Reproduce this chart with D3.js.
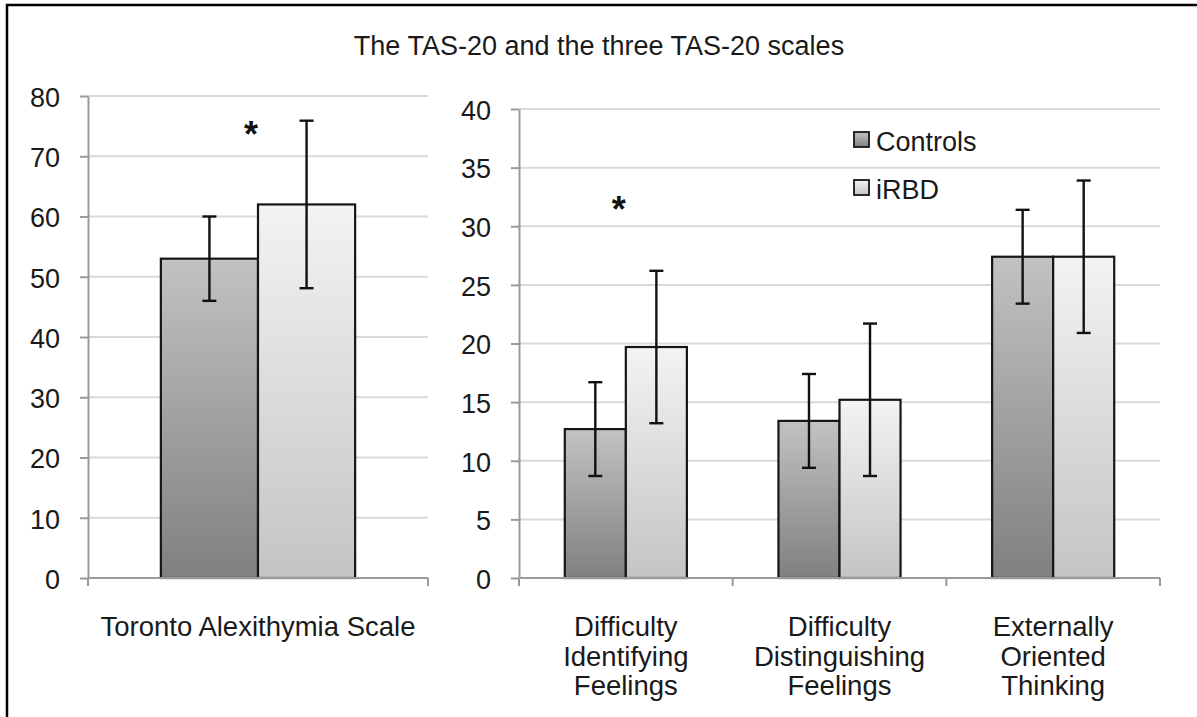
<!DOCTYPE html>
<html>
<head>
<meta charset="utf-8">
<script src="https://cdn.jsdelivr.net/npm/d3@7"></script>
<style>
  body { margin: 0; background: #fff; }
  svg { display: block; font-family: "Liberation Sans", Arial, sans-serif; }
  .tick text { fill: #1a1a1a; }
</style>
</head>
<body>
<svg id="chart" width="1197" height="717"></svg>
<script>
// Data
const series = ['Controls', 'iRBD'];

const tasCategories = [['Toronto Alexithymia Scale']];
const tasControls = [53.0];
const tasControlsErr = [7.0];
const tasIrbd = [62.0];
const tasIrbdErr = [13.9];
const tasTicks = [0, 10, 20, 30, 40, 50, 60, 70, 80];
const tasStars = [74.3];

const scaleCategories = [
    ['Difficulty', 'Identifying', 'Feelings'],
    ['Difficulty', 'Distinguishing', 'Feelings'],
    ['Externally', 'Oriented', 'Thinking']
];
const scaleControls = [12.7, 13.4, 27.4];
const scaleControlsErr = [4.0, 4.0, 4.0];
const scaleIrbd = [19.7, 15.2, 27.4];
const scaleIrbdErr = [6.5, 6.5, 6.5];
const scaleTicks = [0, 5, 10, 15, 20, 25, 30, 35, 40];
const scaleStars = [31.8, null, null];

const title = 'The TAS-20 and the three TAS-20 scales';

const svg = d3.select('#chart');

// Gradients for the bar fills
const defs = svg.append('defs');
const gradStops = {
    Controls: ['#c2c2c2', '#808080'],
    iRBD: ['#f3f3f3', '#c4c4c4']
};
series.forEach(s => {
    const g = defs.append('linearGradient')
        .attr('id', 'grad-' + s)
        .attr('x1', 0).attr('y1', 0).attr('x2', 0).attr('y2', 1);
    g.append('stop').attr('offset', '0%').attr('stop-color', gradStops[s][0]);
    g.append('stop').attr('offset', '100%').attr('stop-color', gradStops[s][1]);
});

// Outer frame (right and bottom edges run off the picture)
svg.append('rect')
    .attr('x', 7).attr('y', 5)
    .attr('width', 1300).attr('height', 800)
    .attr('fill', 'none')
    .attr('stroke', '#000')
    .attr('stroke-width', 2.5);

svg.append('text')
    .attr('x', 599).attr('y', 55)
    .attr('text-anchor', 'middle')
    .attr('font-size', '27px')
    .attr('fill', '#1a1a1a')
    .text(title);

function drawPanel(opts) {
    const { xRange, yRange, max, ticks, cats, ctrl, ctrlErr, irbd, irbdErr, stars } = opts;
    const rows = cats.map((c, i) => ({
        i: i,
        lines: c,
        values: { Controls: [ctrl[i], ctrlErr[i]], iRBD: [irbd[i], irbdErr[i]] },
        star: stars[i]
    }));

    const y = d3.scaleLinear().domain([0, max]).range(yRange);
    const x0 = d3.scaleBand().domain(rows.map(r => r.i)).range(xRange).padding(0);
    const x1 = d3.scaleBand().domain(series).range([0, x0.bandwidth()])
        .paddingInner(0).paddingOuter(0.75);

    const g = svg.append('g');

    // Gridlines
    g.append('g').selectAll('line')
        .data(ticks.filter(t => t > 0))
        .enter().append('line')
        .attr('x1', xRange[0]).attr('x2', xRange[1])
        .attr('y1', d => y(d)).attr('y2', d => y(d))
        .attr('stroke', '#d9d9d9')
        .attr('stroke-width', 2);

    // Y axis
    const yAxis = g.append('g')
        .attr('transform', `translate(${xRange[0]},0)`)
        .call(d3.axisLeft(y).tickValues(ticks).tickSize(8).tickPadding(20).tickSizeOuter(0));
    yAxis.selectAll('text').attr('font-size', '27px').attr('dy', '0.38em');
    yAxis.select('.domain').attr('stroke', '#9a9a9a').attr('stroke-width', 2);
    yAxis.selectAll('.tick line').attr('stroke', '#9a9a9a').attr('stroke-width', 2);

    // Bars
    const groups = g.append('g').selectAll('g')
        .data(rows)
        .enter().append('g')
        .attr('transform', d => `translate(${x0(d.i)},0)`);

    const bars = groups.selectAll('g.bar')
        .data(d => series.map(s => ({ s: s, v: d.values[s][0], e: d.values[s][1] })))
        .enter().append('g').attr('class', 'bar');

    bars.append('rect')
        .attr('x', d => x1(d.s))
        .attr('y', d => y(d.v))
        .attr('width', x1.bandwidth())
        .attr('height', d => y(0) - y(d.v))
        .attr('fill', d => `url(#grad-${d.s})`)
        .attr('stroke', '#161616')
        .attr('stroke-width', 2.2);

    // Error bars
    const cx = d => x1(d.s) + x1.bandwidth() / 2;
    bars.append('line')
        .attr('x1', cx).attr('x2', cx)
        .attr('y1', d => y(d.v + d.e)).attr('y2', d => y(d.v - d.e))
        .attr('stroke', '#111').attr('stroke-width', 2.4);
    [1, -1].forEach(sign => {
        bars.append('line')
            .attr('x1', d => cx(d) - 7).attr('x2', d => cx(d) + 7)
            .attr('y1', d => y(d.v + sign * d.e)).attr('y2', d => y(d.v + sign * d.e))
            .attr('stroke', '#111').attr('stroke-width', 2.4);
    });

    // X axis baseline and category ticks
    g.append('line')
        .attr('x1', xRange[0]).attr('x2', xRange[1])
        .attr('y1', y(0)).attr('y2', y(0))
        .attr('stroke', '#9a9a9a').attr('stroke-width', 2);
    g.append('g').selectAll('line')
        .data(x0.domain().map(d => x0(d)).concat([xRange[1]]))
        .enter().append('line')
        .attr('x1', d => d).attr('x2', d => d)
        .attr('y1', y(0)).attr('y2', y(0) + 8)
        .attr('stroke', '#9a9a9a').attr('stroke-width', 2);

    // Category labels
    const labels = g.append('g').selectAll('text')
        .data(rows)
        .enter().append('text')
        .attr('text-anchor', 'middle')
        .attr('font-size', '27.5px')
        .attr('fill', '#1a1a1a');
    labels.selectAll('tspan')
        .data(d => d.lines.map(l => ({ l: l, x: x0(d.i) + x0.bandwidth() / 2 })))
        .enter().append('tspan')
        .attr('x', d => d.x)
        .attr('y', (d, k) => 636 + k * 29.5)
        .text(d => d.l);

    // Significance stars
    g.append('g').selectAll('text')
        .data(rows.filter(r => r.star != null))
        .enter().append('text')
        .attr('x', d => x0(d.i) + x0.bandwidth() / 2 - 7)
        .attr('y', d => y(d.star))
        .attr('dy', '0.47em')
        .attr('text-anchor', 'middle')
        .attr('font-size', '36px')
        .attr('font-weight', 'bold')
        .attr('fill', '#111')
        .text('*');
}

drawPanel({
    xRange: [88, 428], yRange: [578, 96], max: 80, ticks: tasTicks,
    cats: tasCategories, ctrl: tasControls, ctrlErr: tasControlsErr,
    irbd: tasIrbd, irbdErr: tasIrbdErr, stars: tasStars
});

drawPanel({
    xRange: [519, 1160], yRange: [578, 109], max: 40, ticks: scaleTicks,
    cats: scaleCategories, ctrl: scaleControls, ctrlErr: scaleControlsErr,
    irbd: scaleIrbd, irbdErr: scaleIrbdErr, stars: scaleStars
});

// Legend
const legend = svg.append('g').attr('transform', 'translate(854,132)');
const item = legend.selectAll('g')
    .data(series)
    .enter().append('g')
    .attr('transform', (d, i) => `translate(0,${i * 48})`);
item.append('rect')
    .attr('width', 15).attr('height', 15)
    .attr('fill', d => `url(#grad-${d})`)
    .attr('stroke', '#161616').attr('stroke-width', 1.8);
item.append('text')
    .attr('x', 22).attr('y', 19)
    .attr('font-size', '27px')
    .attr('fill', '#1a1a1a')
    .text(d => d);
</script>
</body>
</html>
